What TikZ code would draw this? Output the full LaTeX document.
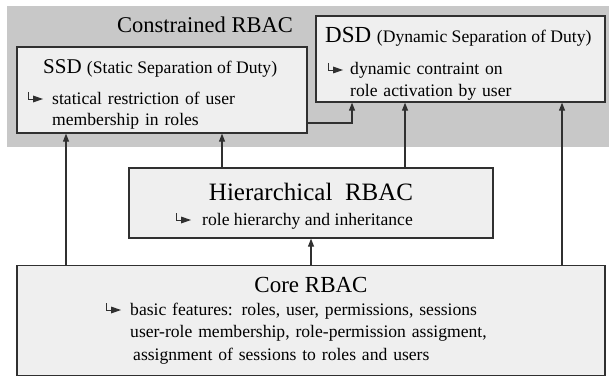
\documentclass[tikz,border=0pt]{standalone}
\usepackage{fontspec}
\setmainfont{LiberationSerif}[Extension=.ttf,UprightFont=*-Regular,BoldFont=*-Bold]
\usetikzlibrary{arrows.meta}
\definecolor{panelgray}{HTML}{C8C8C8}
\definecolor{boxgray}{HTML}{EFEFEF}
\definecolor{edgegray}{HTML}{303030}
\newcommand{\bodyfont}{\fontsize{17.6}{21}\selectfont}
\newcommand{\headfont}[1]{\fontsize{#1}{#1}\selectfont}

\begin{document}
\begin{tikzpicture}
  [x=1pt,y=-1pt,
   box/.style={draw=edgegray,line width=1.3pt,fill=boxgray,inner sep=0pt},
   lbl/.style={inner sep=0pt,anchor=base west},
   para/.style={inner sep=0pt,anchor=base west,align=left,font=\bodyfont},
   link/.style={draw=edgegray,line width=1.1pt,-{Triangle[length=8pt,width=6pt]}},
   bent/.pic={
     \draw[edgegray,line width=0.9pt] (1,-12) |- (7,-5);
     \fill[edgegray] (6,-8.5) -- (16,-5) -- (6,-1.5) -- cycle;}]
  \useasboundingbox (0,0) rectangle (609,377);

  % grey constrained area
  \node[fill=panelgray,minimum width=602pt,minimum height=141pt,inner sep=0pt] (panel) at (308,76.5) {};
  \node[inner sep=0pt,anchor=base] (cons) at (205,33) {\headfont{22.5}Constrained RBAC};

  % boxes
  \node[box,minimum width=290pt,minimum height=86pt] (ssd) at (162,90) {};
  \node[box,minimum width=289pt,minimum height=86pt] (dsd) at (460.5,59) {};
  \node[box,minimum width=364pt,minimum height=70pt] (hier) at (311,203) {};
  \node[box,minimum width=588pt,minimum height=110pt] (core) at (311,320.5) {};

  % texts
  \node[lbl] (ssdhead) at (43,74) {\headfont{21}SSD \fontsize{17.6}{21}\selectfont(Static Separation of Duty)};
  \pic at (27,104) {bent};
  \node[para,text width=240pt] (ssdtext) at (52,104) {statical restriction of user\\membership in roles};

  \node[lbl] (dsdhead) at (325,43) {\headfont{23}DSD \fontsize{17.6}{21}\selectfont(Dynamic Separation of Duty)};
  \pic at (327,75) {bent};
  \node[para,text width=240pt] (dsdtext) at (350,75) {dynamic contraint on\\role activation by user};

  \node[inner sep=0pt,anchor=base] (hierhead) at (311,200) {\headfont{25}Hierarchical\ \ RBAC};
  \pic at (175,225) {bent};
  \node[para] (hiertext) at (202,225) {role hierarchy and inheritance};

  \node[inner sep=0pt,anchor=base] (corehead) at (311,292) {\headfont{23}Core RBAC};
  \pic at (105,315) {bent};
  \node[para,text width=400pt,font=\fontsize{17.6}{22.5}\selectfont] (coretext) at (130,315)
    {basic features: roles, user, permissions, sessions\\user-role membership, role-permission assigment,\\\hspace*{3pt}assignment of sessions to roles and users};

  % connectors
  \coordinate (c1) at (66,0);
  \coordinate (c2) at (222,0);
  \coordinate (c3) at (405,0);
  \coordinate (c4) at (562,0);
  \coordinate (c5) at (352,123);
  \draw[link] (core.north -| c1) -- (ssd.south -| c1);
  \draw[link] (hier.north -| c2) -- (ssd.south -| c2);
  \draw[link] (hier.north -| c3) -- (dsd.south -| c3);
  \draw[link] (core.north -| c4) -- (dsd.south -| c4);
  \draw[link] (core.north) -- (hier.south);
  \draw[link] (ssd.east |- c5) -| (dsd.south -| c5);
\end{tikzpicture}
\end{document}
